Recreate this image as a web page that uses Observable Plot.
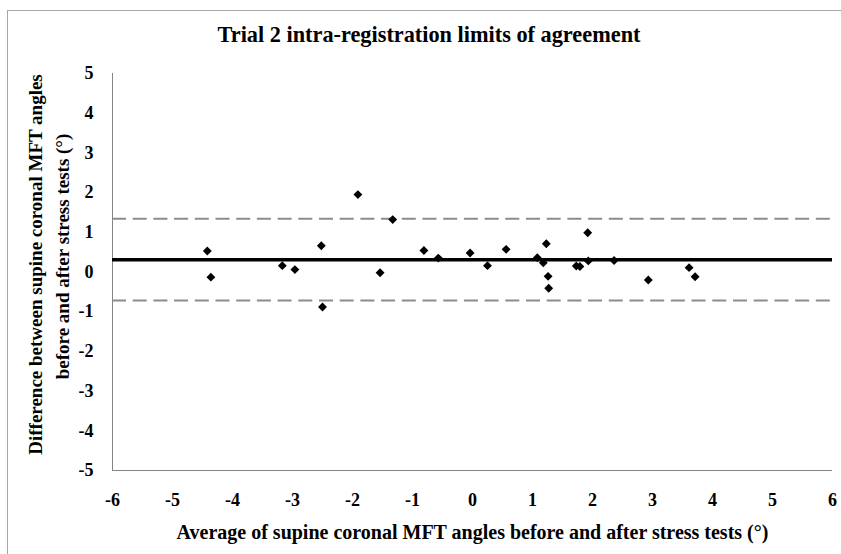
<!DOCTYPE html>
<html>
<head>
<meta charset="utf-8">
<script src="https://cdn.jsdelivr.net/npm/d3@7"></script>
<script src="https://cdn.jsdelivr.net/npm/@observablehq/plot@0.6"></script>
<style>
  html, body { margin: 0; padding: 0; background: #fff; }
  #chart { position: relative; width: 841px; height: 554px; overflow: hidden; background: #fff; }
  #border { position: absolute; left: 7px; top: 10px; width: 900px; height: 600px;
            border: 1px solid #a6a6a6; box-sizing: border-box; }
  #chart svg { position: absolute; left: 0; top: 0; }
</style>
</head>
<body>
<div id="chart"><div id="border"></div></div>
<script>
// Bland–Altman data: average of the two registrations vs. their difference (degrees)
const avgAngle = [-4.42, -4.36, -3.17, -2.96, -2.52, -2.50, -1.91, -1.33, -1.54, -0.81,
                  -0.57, -0.04, 0.25, 0.56, 1.08, 1.18, 1.23, 1.26, 1.27, 1.73,
                  1.79, 1.92, 1.93, 2.36, 2.93, 3.61, 3.71];
const diffAngle = [0.53, -0.13, 0.16, 0.06, 0.66, -0.88, 1.95, 1.32, -0.02, 0.54,
                   0.35, 0.48, 0.16, 0.57, 0.36, 0.23, 0.71, -0.11, -0.41, 0.15,
                   0.14, 0.99, 0.28, 0.29, -0.20, 0.11, -0.12];

// Mean difference and 95% limits of agreement
const meanDiff = 0.31;
const limits = [1.34, -0.72];

const xTicks = [-6, -5, -4, -3, -2, -1, 0, 1, 2, 3, 4, 5, 6];
const yTicks = [-5, -4, -3, -2, -1, 0, 1, 2, 3, 4, 5];

const chartTitle = "Trial 2 intra-registration limits of agreement";
const xTitle = "Average of supine coronal MFT angles before and after stress tests (°)";
const yTitleLines = ["Difference between supine coronal MFT angles",
                     "before and after stress tests (°)"];

const points = avgAngle.map((x, i) => ({x, y: diffAngle[i]}));

const W = 841, H = 554;
const mL = 112, mR = 9, mT = 73, mB = 84;
const plotCx = mL + (W - mL - mR) / 2;
const plotCy = mT + (H - mT - mB) / 2;

const chart = Plot.plot({
  width: W,
  height: H,
  marginLeft: mL,
  marginRight: mR,
  marginTop: mT,
  marginBottom: mB,
  x: {domain: [-6, 6]},
  y: {domain: [-5, 5]},
  style: {
    fontFamily: '"Liberation Serif", "Times New Roman", serif',
    fontSize: "18px",
    fontWeight: "bold",
    color: "#000",
    background: "transparent",
    overflow: "visible"
  },
  marks: [
    // axis lines (left and bottom)
    Plot.ruleX([-6], {stroke: "#858585", strokeWidth: 1}),
    Plot.ruleY([-5], {stroke: "#858585", strokeWidth: 1}),
    Plot.axisX({ticks: xTicks, tickSize: 0, tickPadding: 23, tickFormat: d => String(d),
                label: null, fontSize: 18}),
    Plot.axisY({ticks: yTicks, tickSize: 0, tickPadding: 19, tickFormat: d => String(d),
                label: null, fontSize: 18}),
    // limits of agreement
    Plot.ruleY(limits, {stroke: "#8c8c8c", strokeWidth: 2, strokeDasharray: "14,6.7"}),
    // mean difference
    Plot.ruleY([meanDiff], {stroke: "#000", strokeWidth: 3.6}),
    // observations
    Plot.dot(points, {x: "x", y: "y", symbol: "diamond2", r: 4, fill: "#000", stroke: null}),
    // titles
    Plot.text([chartTitle], {frameAnchor: "top", text: d => d, textAnchor: "middle",
               lineAnchor: "middle", dx: 428.5 - plotCx, dy: 34 - mT, fontSize: 22.3}),
    Plot.text([xTitle], {frameAnchor: "bottom", text: d => d, textAnchor: "middle",
               lineAnchor: "middle", dy: 532 - (H - mB), fontSize: 20}),
    Plot.text([yTitleLines[0]], {frameAnchor: "left", text: d => d, rotate: -90,
               textAnchor: "middle", lineAnchor: "middle",
               dx: 35 - mL, dy: 264 - plotCy, fontSize: 19}),
    Plot.text([yTitleLines[1]], {frameAnchor: "left", text: d => d, rotate: -90,
               textAnchor: "middle", lineAnchor: "middle",
               dx: 62 - mL, dy: 256 - plotCy, fontSize: 19})
  ]
});

document.getElementById("chart").appendChild(chart);
</script>
</body>
</html>
